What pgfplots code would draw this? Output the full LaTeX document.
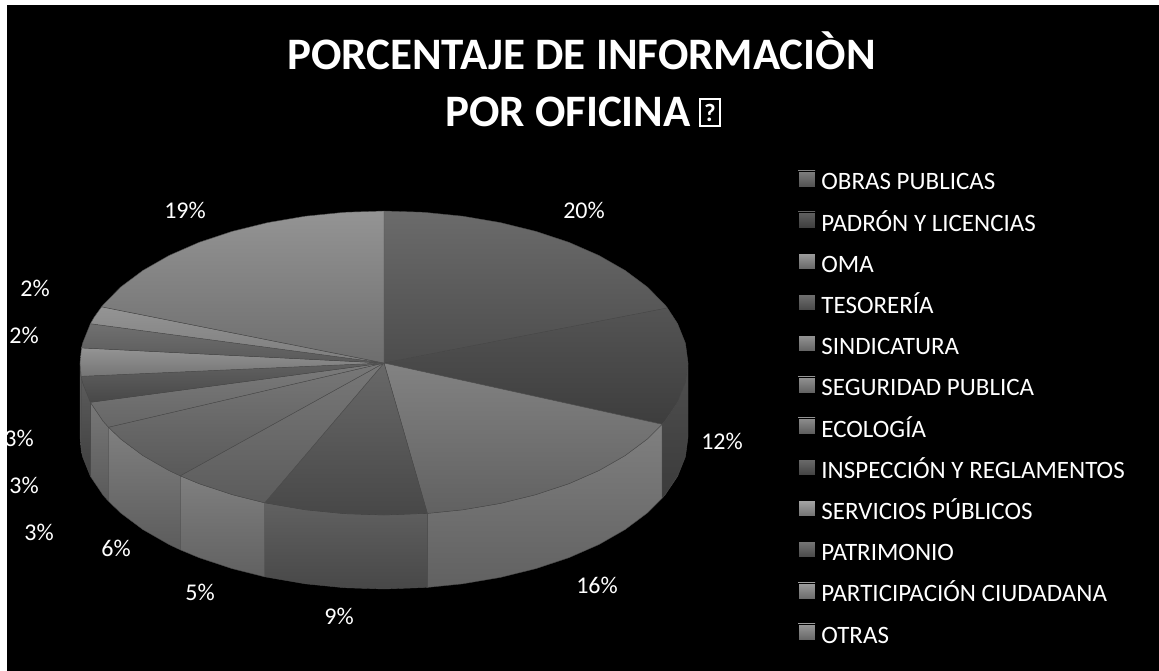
\documentclass[border=0pt]{standalone}
\usepackage{fontspec}
\setmainfont{Carlito}
\usepackage{pgfplots}
\pgfplotsset{compat=1.18}

% top and bottom lightness of each gradient, in percent white
\pgfplotsset{
  slice/.style 2 args={top color=white!#1!black,bottom color=white!#2!black,
    draw=white!30!black,line width=0.4pt,mark=none,forget plot},
  swatch/.style 2 args={top color=white!#1!black,bottom color=white!#2!black},
}
\tikzset{pct/.style={text=white,font=\fontsize{24}{24}\selectfont,inner sep=0pt}}

\begin{document}
\begin{tikzpicture}
\begin{axis}[width=1159pt,height=671pt,scale only axis,hide axis,
  xmin=0,xmax=1159,ymin=0,ymax=671,y dir=reverse,clip=false,
  legend cell align=left,
  legend image code/.code={\path[#1] (0pt,-0.5pt) rectangle (17pt,15.5pt);},
  legend style={at={(axis cs:798,170.5)},anchor=north west,draw=none,fill=none,
    text=white,font=\fontsize{25}{25}\selectfont,inner sep=0pt,outer sep=0pt,
    row sep=13.6pt,column sep=6pt,
    nodes={inner sep=0pt,text height=15.5pt,text depth=8.3pt}}]

% page and black panel
\addplot[fill=white,draw=none,forget plot] coordinates {(0,0)(1159,0)(1159,671)(0,671)} -- cycle;
\addplot[fill=black,draw=none,forget plot] coordinates {(7,5)(1159,5)(1159,671)(7,671)} -- cycle;

% side wall of the pie
\addplot[slice={31}{23}] coordinates {(688,363)(685.4,382.8)(677.6,402.3)(664.9,421.2)(662,424.3)
  (662,498.3)(664.9,495.2)(677.6,476.3)(685.4,456.8)(688,437)} -- cycle;
\addplot[slice={50}{38}] coordinates {(662,424.3)(647.3,439)(625.2,455.5)(599,470.5)(569.1,483.6)(536,494.6)
  (500.3,503.4)(462.7,509.8)(427.4,513.4)(427.4,587.4)(462.7,583.8)(500.3,577.4)(536,568.6)
  (569.1,557.6)(599,544.5)(625.2,529.5)(647.3,513)(662,498.3)} -- cycle;
\addplot[slice={38}{28}] coordinates {(427.4,513.4)(384,515)(344.3,513.7)(305.3,509.8)(264.7,502.8)
  (264.7,576.8)(305.3,583.8)(344.3,587.7)(384,589)(427.4,587.4)} -- cycle;
\addplot[slice={50}{38}] coordinates {(264.7,502.8)(232,494.6)(198.9,483.6)(180.2,475.8)
  (180.2,549.8)(198.9,557.6)(232,568.6)(264.7,576.8)} -- cycle;
\addplot[slice={50}{36}] coordinates {(180.2,475.8)(169,470.5)(142.8,455.5)(120.7,439)(108.5,427.2)
  (108.5,501.2)(120.7,513)(142.8,529.5)(169,544.5)(180.2,549.8)} -- cycle;
\addplot[slice={47}{35}] coordinates {(108.5,427.2)(103.1,421.2)(90.4,402.3)(90.4,476.3)(103.1,495.2)(108.5,501.2)} -- cycle;
\addplot[slice={36}{25}] coordinates {(90.4,402.3)(82.6,382.8)(81.2,376.3)(81.2,450.3)(82.6,456.8)(90.4,476.3)} -- cycle;
\addplot[slice={40}{30}] coordinates {(81.2,376.3)(80,363)(80,437)(81.2,450.3)} -- cycle;

% top face, clockwise from twelve o'clock
\addplot[slice={42}{30}] coordinates {(384,363)(384,211)(423.7,212.3)(462.7,216.2)(500.3,222.6)(536,231.4)
  (569.1,242.4)(599,255.5)(625.2,270.5)(647.3,287)(664.9,304.8)(667.4,308)} -- cycle;
\addplot[slice={33}{24}] coordinates {(384,363)(667.4,308)(677.6,323.7)(685.4,343.2)(688,363)(685.4,382.8)
  (677.6,402.3)(664.9,421.2)(662,424.3)} -- cycle;
\addplot[slice={51}{38}] coordinates {(384,363)(662,424.3)(647.3,439)(625.2,455.5)(599,470.5)(569.1,483.6)
  (536,494.6)(500.3,503.4)(462.7,509.8)(427.4,513.4)} -- cycle;
\addplot[slice={41}{28}] coordinates {(384,363)(427.4,513.4)(384,515)(344.3,513.7)(305.3,509.8)(264.7,502.8)} -- cycle;
\addplot[slice={47}{36}] coordinates {(384,363)(264.7,502.8)(232,494.6)(198.9,483.6)(180.2,475.8)} -- cycle;
\addplot[slice={47}{35}] coordinates {(384,363)(180.2,475.8)(169,470.5)(142.8,455.5)(120.7,439)(108.5,427.2)} -- cycle;
\addplot[slice={48}{40}] coordinates {(384,363)(108.5,427.2)(103.1,421.2)(90.4,402.3)} -- cycle;
\addplot[slice={38}{28}] coordinates {(384,363)(90.4,402.3)(82.6,382.8)(81.2,376.3)} -- cycle;
\addplot[slice={58}{46}] coordinates {(384,363)(81.2,376.3)(80,363)(81.5,347.9)} -- cycle;
\addplot[slice={44}{35}] coordinates {(384,363)(81.5,347.9)(82.6,343.2)(90.4,323.7)} -- cycle;
\addplot[slice={58}{49}] coordinates {(384,363)(90.4,323.7)(94.1,317.3)(101.6,306.8)} -- cycle;
\addplot[slice={58}{43}] coordinates {(384,363)(101.6,306.8)(103.1,304.8)(120.7,287)(142.8,270.5)(169,255.5)
  (198.9,242.4)(232,231.4)(267.7,222.6)(305.3,216.2)(344.3,212.3)(384,211)} -- cycle;

% legend swatches are a little lighter than the slices
\addlegendimage{swatch={50}{32}} \addlegendentry{OBRAS PUBLICAS}
\addlegendimage{swatch={38}{24}} \addlegendentry{PADRÓN Y LICENCIAS}
\addlegendimage{swatch={62}{40}} \addlegendentry{OMA}
\addlegendimage{swatch={44}{28}} \addlegendentry{TESORERÍA}
\addlegendimage{swatch={58}{38}} \addlegendentry{SINDICATURA}
\addlegendimage{swatch={58}{38}} \addlegendentry{SEGURIDAD PUBLICA}
\addlegendimage{swatch={56}{36}} \addlegendentry{ECOLOGÍA}
\addlegendimage{swatch={42}{26}} \addlegendentry{INSPECCIÓN Y REGLAMENTOS}
\addlegendimage{swatch={65}{44}} \addlegendentry{SERVICIOS PÚBLICOS}
\addlegendimage{swatch={46}{28}} \addlegendentry{PATRIMONIO}
\addlegendimage{swatch={62}{42}} \addlegendentry{PARTICIPACIÓN CIUDADANA}
\addlegendimage{swatch={60}{40}} \addlegendentry{OTRAS}

% title
\node[text=white,font=\bfseries\fontsize{45}{45}\selectfont,inner sep=0pt,anchor=base] at (axis cs:581.5,70) {PORCENTAJE DE INFORMACIÒN};
\node[text=white,font=\bfseries\fontsize{45}{45}\selectfont,inner sep=0pt,anchor=base west] at (axis cs:445,127) {POR OFICINA};
\node[text=white,draw=white,line width=2.2pt,minimum width=20pt,minimum height=27pt,inner sep=0pt,
  font=\bfseries\fontsize{25}{25}\selectfont] at (axis cs:710,112.5) {?};

% percentage labels
\node[pct] at (axis cs:584,210) {20\%};
\node[pct] at (axis cs:722,441) {12\%};
\node[pct] at (axis cs:597,585) {16\%};
\node[pct] at (axis cs:339,616) {9\%};
\node[pct] at (axis cs:200,592) {5\%};
\node[pct] at (axis cs:116,548) {6\%};
\node[pct] at (axis cs:39,532) {3\%};
\node[pct] at (axis cs:24,485) {3\%};
\node[pct] at (axis cs:19,438) {3\%};
\node[pct] at (axis cs:24,335) {2\%};
\node[pct] at (axis cs:35,288) {2\%};
\node[pct] at (axis cs:185,210) {19\%};
\end{axis}
\end{tikzpicture}
\end{document}
